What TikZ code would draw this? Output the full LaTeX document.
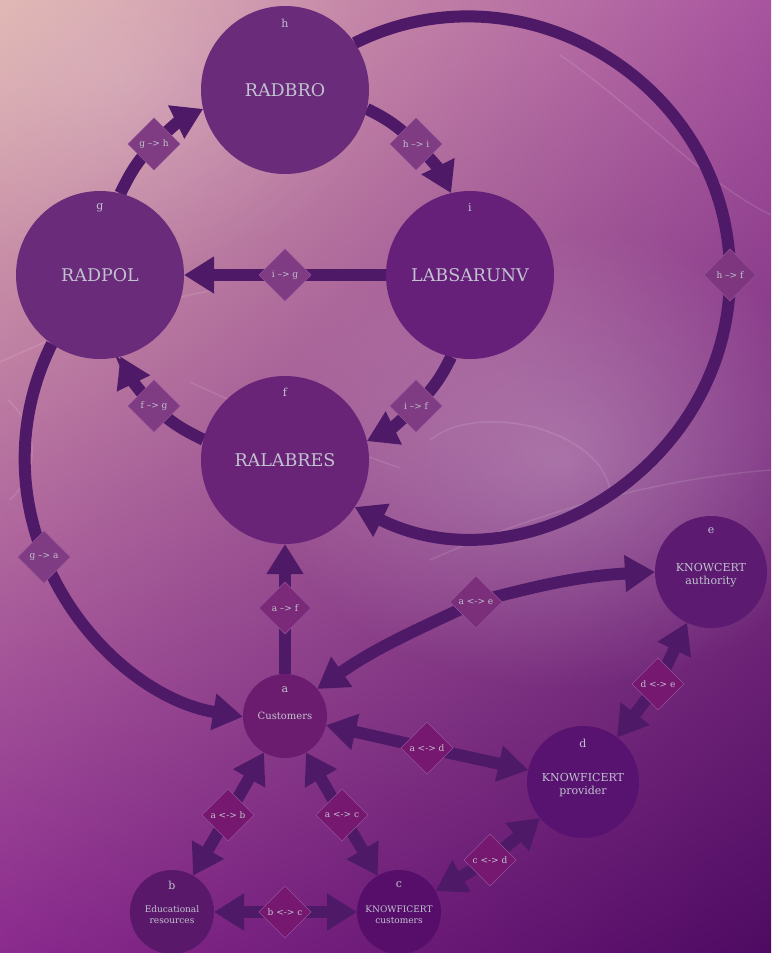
\documentclass[tikz,border=0pt]{standalone}
\usepackage{fontspec}
\setmainfont{DejaVu Serif}
\usetikzlibrary{arrows.meta,shapes.geometric,fadings,shadings}
\definecolor{bgUL}{HTML}{DFB4B0}
\definecolor{bgUR}{HTML}{A8549F}
\definecolor{bgLL}{HTML}{8A2A8E}
\definecolor{bgLR}{HTML}{4E0A62}
\definecolor{linkC}{HTML}{4E1A67}
\definecolor{txtC}{HTML}{C2C2D0}
\definecolor{cTop}{HTML}{6A2B7A}
\definecolor{cI}{HTML}{66207A}
\definecolor{cF}{HTML}{692478}
\definecolor{cE}{HTML}{5C1A70}
\definecolor{cD}{HTML}{581270}
\definecolor{cA}{HTML}{6C1C6E}
\definecolor{cB}{HTML}{5A186A}
\definecolor{cC}{HTML}{560E6A}
\definecolor{dTop}{HTML}{7F3C82}
\definecolor{dLow}{HTML}{76186F}
\definecolor{dEdge}{HTML}{94509A}
\tikzfading[name=glowfade, inner color=transparent!0, outer color=transparent!100]
\pgfdeclarelayer{bg}
\pgfdeclarelayer{edges}
\pgfsetlayers{bg,edges,main}
\begin{document}
\begin{tikzpicture}[x=1pt,y=1pt,
  bubble/.style={circle, inner sep=0pt, outer sep=0pt, text=txtC, align=center},
  bigbub/.style={bubble, minimum size=168pt, font=\fontsize{17.5}{20}\selectfont},
  midbub/.style={bubble, minimum size=112pt, font=\fontsize{11}{13.5}\selectfont},
  smallbub/.style={bubble, minimum size=84pt},
  letter/.style={text=txtC, inner sep=0pt, font=\fontsize{11}{12}\selectfont},
  dia/.style={diamond, aspect=1, minimum size=52pt, inner sep=0pt, outer sep=0pt,
    fill=dLow, draw=dEdge, line width=0.5pt, text=txtC, font=\fontsize{9}{10}\selectfont},
  link/.style={draw=linkC, line width=12pt},
  tip/.style={-{Triangle[length=30pt,width=35pt]}},
  swirl/.style={draw=white, opacity=0.11, line width=1.5pt}
]
\useasboundingbox (0,0) rectangle (771,-953);
\begin{pgfonlayer}{bg}
  \shade[upper left=bgUL, upper right=bgUR, lower left=bgLL, lower right=bgLR]
    (0,0) rectangle (771,-953);
  \fill[white, opacity=0.26, path fading=glowfade] (560,-460) ellipse [x radius=300, y radius=230];
  \fill[white, opacity=0.15, path fading=glowfade] (120,-80) ellipse [x radius=260, y radius=200];
  \path[swirl] (0,-362) .. controls (60,-335) and (130,-305) .. (215,-290);
  \path[swirl] (190,-382) .. controls (250,-410) and (320,-440) .. (400,-468);
  \path[swirl] (8,-400) .. controls (40,-430) and (40,-470) .. (10,-500);
  \path[swirl] (430,-440) .. controls (480,-400) and (600,-430) .. (610,-490);
  \path[swirl] (560,-55) .. controls (640,-110) and (700,-180) .. (771,-215);
  \path[swirl] (430,-560) .. controls (520,-520) and (640,-480) .. (771,-470);
\end{pgfonlayer}

% main bubbles
\node[bigbub, fill=cTop] (h) at (285,-90) {RADBRO};
\node[bigbub, fill=cTop] (g) at (100,-275) {RADPOL};
\node[bigbub, fill=cI] (i) at (470,-275) {LABSARUNV};
\node[bigbub, fill=cF] (f) at (285,-460) {RALABRES};
\node[midbub, fill=cE] (e) at (711,-572) {\\[1pt]KNOWCERT\\authority};
\node[midbub, fill=cD] (d) at (583,-782) {\\[1pt]KNOWFICERT\\provider};
\node[smallbub, fill=cA, font=\fontsize{10}{12}\selectfont] (a) at (285,-716) {Customers};
\node[smallbub, fill=cB, font=\fontsize{9}{11.5}\selectfont] (b) at (172,-912) {\\[1pt]Educational\\resources};
\node[smallbub, fill=cC, font=\fontsize{9}{11.5}\selectfont] (c) at (399,-912) {\\[1pt]KNOWFICERT\\customers};

% letters
\node[letter] (hL) at (285,-23) {h};
\node[letter] (gL) at (100,-208) {g};
\node[letter] (iL) at (470,-207) {i};
\node[letter] (fL) at (285,-392) {f};
\node[letter] (eL) at (711,-531) {e};
\node[letter] (dL) at (583,-743) {d};
\node[letter] (aL) at (285,-690) {a};
\node[letter] (bL) at (172,-885) {b};
\node[letter] (cL) at (399,-885) {c};

% diamonds
\node[dia, fill=dTop] (gh) at (154,-144) {g --> h};
\node[dia, fill=dTop] (hi) at (416,-144) {h --> i};
\node[dia, fill=dTop] (ifd) at (416,-406) {i --> f};
\node[dia, fill=dTop] (fg) at (154,-406) {f --> g};
\node[dia, fill=dTop] (ig) at (285,-275) {i --> g};
\node[dia, fill=dTop!85!dLow] (hf) at (730,-275) {h --> f};
\node[dia, fill=dTop] (ga) at (44,-557) {g --> a};
\node[dia, fill=dTop!50!dLow] (af) at (285,-608) {a --> f};
\node[dia, fill=dTop!60!dLow] (ae) at (476,-602) {a <-> e};
\node[dia] (ad) at (427,-748) {a <-> d};
\node[dia] (ab) at (228,-815) {a <-> b};
\node[dia] (ac) at (342,-815) {a <-> c};
\node[dia] (bc) at (285,-912) {b <-> c};
\node[dia] (cd) at (490,-860) {c <-> d};
\node[dia] (de) at (658,-684) {d <-> e};

\begin{pgfonlayer}{edges}
  % inner ring
  \draw[link] (g.76.7) to[out=64,in=225] (gh.center);
  \draw[link,tip] (gh.center) to[out=45,in=206] (h.193.3);
  \draw[link] (h.-13.3) to[out=-26,in=135] (hi.center);
  \draw[link,tip] (hi.center) to[out=-45,in=116] (i.103.3);
  \draw[link] (i.-103.3) to[out=-116,in=45] (ifd.center);
  \draw[link,tip] (ifd.center) to[out=-135,in=26] (f.13.3);
  \draw[link] (f.166.7) to[out=154,in=-45] (fg.center);
  \draw[link,tip] (fg.center) to[out=135,in=-64] (g.-76.7);
  % i -> g
  \draw[link] (i) -- (ig.center);
  \draw[link,tip] (ig.center) -- (g);
  % h -> f
  \draw[link] (h.34.6) to[out=26.4,in=90,looseness=1.1] (hf.center);
  \draw[link,tip] (hf.center) to[out=-90,in=-26.4,looseness=1.1] (f.-34.6);
  % g -> a
  \draw[link] (g.235.4) to[out=243.6,in=112,looseness=0.9] (ga.center);
  \draw[link,tip] (ga.center) to[out=-68,in=170.7,looseness=0.92] (a.181);
  % a -> f
  \draw[link] (a) -- (af.center);
  \draw[link,tip] (af.center) -- (f);
  % a <-> e
  \draw[link,tip] (ae.center) to[out=205,in=35] (a.40);
  \draw[link,tip] (ae.center) to[out=15,in=183] (e.180);
  % lower network
  \draw[link,tip] (ad.center) -- (a);
  \draw[link,tip] (ad.center) -- (d);
  \draw[link,tip] (ab.center) -- (a);
  \draw[link,tip] (ab.center) -- (b);
  \draw[link,tip] (ac.center) -- (a);
  \draw[link,tip] (ac.center) -- (c);
  \draw[link,tip] (bc.center) -- (b);
  \draw[link,tip] (bc.center) -- (c);
  \draw[link,tip] (cd.center) -- (c);
  \draw[link,tip] (cd.center) -- (d);
  \draw[link,tip] (de.center) -- (d);
  \draw[link,tip] (de.center) -- (e);
\end{pgfonlayer}
\end{tikzpicture}
\end{document}
